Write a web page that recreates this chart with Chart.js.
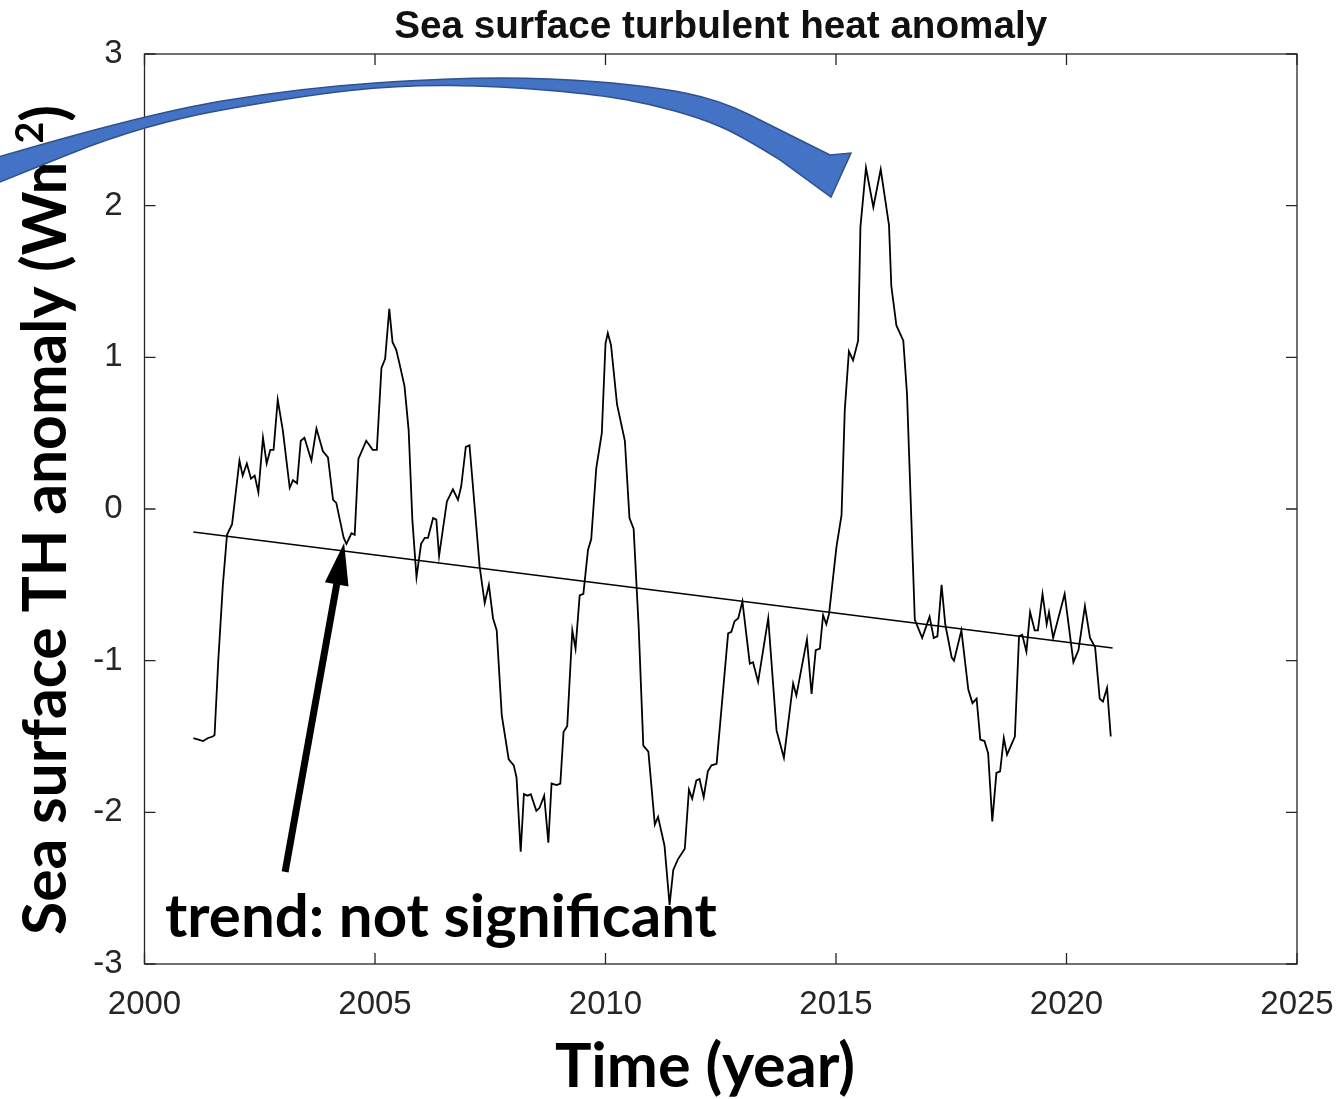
<!DOCTYPE html>
<html><head><meta charset="utf-8">
<script src="https://cdn.jsdelivr.net/npm/chart.js@4/dist/chart.umd.min.js"></script>
<style>html,body{margin:0;padding:0;background:#fff;}#wrap{width:1339px;height:1099px;}</style>
</head><body><div id="wrap"><canvas id="c" width="1339" height="1099"></canvas></div>
<script>
// ---- data ----
const years = [
2001.06,2001.17,2001.27,2001.38,2001.48,2001.52,2001.60,2001.70,2001.79,2001.90,
2002.06,2002.13,2002.22,2002.31,2002.39,2002.47,2002.57,2002.65,2002.73,2002.80,
2002.89,2003.00,2003.15,2003.22,2003.31,2003.39,2003.47,2003.62,2003.73,2003.87,
2003.98,2004.09,2004.16,2004.32,2004.38,2004.49,2004.56,2004.64,2004.81,2004.95,
2005.04,2005.14,2005.22,2005.31,2005.38,2005.46,2005.53,2005.64,2005.73,2005.81,
2005.90,2006.00,2006.08,2006.15,2006.26,2006.33,2006.39,2006.47,2006.56,2006.69,
2006.80,2006.87,2006.97,2007.05,2007.27,2007.38,2007.47,2007.56,2007.64,2007.75,
2007.90,2008.01,2008.07,2008.16,2008.23,2008.31,2008.38,2008.50,2008.57,2008.67,
2008.76,2008.83,2008.94,2009.02,2009.09,2009.17,2009.28,2009.35,2009.44,2009.52,
2009.62,2009.69,2009.80,2009.92,2010.00,2010.05,2010.12,2010.25,2010.42,2010.52,
2010.61,2010.72,2010.82,2010.93,2011.07,2011.14,2011.28,2011.39,2011.47,2011.57,
2011.72,2011.81,2011.88,2011.97,2012.04,2012.13,2012.22,2012.30,2012.41,2012.66,
2012.73,2012.80,2012.88,2012.97,2013.13,2013.20,2013.31,2013.53,2013.71,2013.87,
2014.07,2014.14,2014.37,2014.47,2014.56,2014.65,2014.72,2014.79,2014.85,2015.01,
2015.12,2015.19,2015.28,2015.37,2015.48,2015.53,2015.65,2015.81,2015.97,2016.15,
2016.20,2016.31,2016.46,2016.54,2016.71,2016.87,2017.03,2017.12,2017.20,2017.29,
2017.37,2017.51,2017.56,2017.72,2017.87,2017.96,2018.05,2018.13,2018.22,2018.30,
2018.39,2018.48,2018.56,2018.64,2018.71,2018.88,2018.97,2019.04,2019.13,2019.21,
2019.31,2019.38,2019.48,2019.57,2019.62,2019.71,2019.96,2020.15,2020.26,2020.40,
2020.51,2020.62,2020.72,2020.79,2020.88,2020.96
];
const anomaly = [
-1.51,-1.52,-1.53,-1.51,-1.50,-1.49,-1.00,-0.50,-0.17,-0.10,
0.32,0.22,0.30,0.20,0.22,0.11,0.47,0.30,0.39,0.39,
0.72,0.52,0.14,0.19,0.17,0.45,0.47,0.32,0.53,0.38,
0.34,0.06,0.04,-0.19,-0.23,-0.16,-0.17,0.33,0.45,0.39,
0.39,0.93,0.99,1.32,1.10,1.05,0.96,0.81,0.52,-0.07,
-0.45,-0.23,-0.19,-0.19,-0.06,-0.07,-0.31,-0.14,0.05,0.13,
0.06,0.15,0.41,0.42,-0.38,-0.62,-0.50,-0.72,-0.80,-1.36,
-1.65,-1.69,-1.77,-2.26,-1.88,-1.89,-1.88,-1.99,-1.97,-1.89,
-2.20,-1.81,-1.82,-1.81,-1.47,-1.43,-0.80,-0.92,-0.57,-0.56,
-0.27,-0.20,0.27,0.50,1.09,1.16,1.08,0.69,0.45,-0.06,
-0.13,-0.78,-1.56,-1.60,-2.08,-2.03,-2.22,-2.61,-2.38,-2.31,
-2.24,-1.85,-1.91,-1.79,-1.78,-1.90,-1.73,-1.69,-1.68,-0.82,
-0.81,-0.74,-0.72,-0.61,-1.02,-1.01,-1.14,-0.72,-1.46,-1.64,
-1.15,-1.23,-0.86,-1.22,-0.93,-0.92,-0.70,-0.76,-0.69,-0.25,
-0.04,0.65,1.04,0.98,1.11,1.86,2.25,1.99,2.24,1.87,
1.47,1.21,1.11,0.76,-0.73,-0.85,-0.71,-0.85,-0.84,-0.50,
-0.76,-0.98,-1.00,-0.80,-1.19,-1.28,-1.25,-1.52,-1.53,-1.61,
-2.06,-1.74,-1.73,-1.51,-1.62,-1.50,-0.84,-0.83,-0.94,-0.68,
-0.80,-0.80,-0.56,-0.76,-0.68,-0.85,-0.56,-1.01,-0.93,-0.64,
-0.85,-0.91,-1.25,-1.27,-1.18,-1.50
];
const trendYears = [2001.06, 2021.00];
const trendValues = [-0.152, -0.916];
const xTickValues = [2000, 2005, 2010, 2015, 2020, 2025];
const yTickValues = [-3, -2, -1, 0, 1, 2, 3];
const titleText = 'Sea surface turbulent heat anomaly';
const xTitle = 'Time (year)';
const yTitleMain = 'Sea surface TH anomaly (Wm';
const yTitleSup = '2';
const yTitleEnd = ')';
const noteText = 'trend: not significant';

// annotation geometry (in data units: year, value)
const blueUpper = [[1996.757,2.314],[1999.989,2.604],[2003.373,2.776],[2006.627,2.842],[2008.796,2.842],[2010.965,2.789],[2012.484,2.697],[2013.785,2.499],[2014.870,2.334]];
const blueHead = [[2015.325,2.347],[2014.891,2.057],[2013.785,2.302]];
const blueLower = [[2013.785,2.302],[2012.918,2.466],[2012.050,2.578],[2010.965,2.670],[2009.881,2.730],[2007.712,2.789],[2005.542,2.795],[2003.373,2.723],[1999.989,2.538],[1996.757,2.143]];
const blackArrow = [[2003.05,-2.393],[2004.33,-0.224]];
const notePos = [2000.445, -2.822];

const INK = '#262626';

function fitSize(ctx, text, weight, family, target) {
  ctx.font = weight + ' 100px ' + family;
  return 100 * target / ctx.measureText(text).width;
}
function smoothPath(ctx, pts, start) {
  if (start) ctx.moveTo(pts[0][0], pts[0][1]); else ctx.lineTo(pts[0][0], pts[0][1]);
  for (let i = 1; i < pts.length - 1; i++) {
    const mx = (pts[i][0] + pts[i+1][0]) / 2, my = (pts[i][1] + pts[i+1][1]) / 2;
    ctx.quadraticCurveTo(pts[i][0], pts[i][1], mx, my);
  }
  const l = pts[pts.length-1];
  ctx.lineTo(l[0], l[1]);
}

const decor = {
  id: 'decor',
  afterDraw(chart) {
    const ctx = chart.ctx, a = chart.chartArea;
    const xs = chart.scales.x, ys = chart.scales.y;
    const P = p => [xs.getPixelForValue(p[0]), ys.getPixelForValue(p[1])];
    ctx.save();
    // box
    ctx.strokeStyle = INK; ctx.lineWidth = 1.3;
    ctx.strokeRect(a.left, a.top, a.right - a.left, a.bottom - a.top);
    // inward ticks
    const tl = 11;
    ctx.beginPath();
    xTickValues.forEach(v => {
      const x = xs.getPixelForValue(v);
      ctx.moveTo(x, a.bottom); ctx.lineTo(x, a.bottom - tl);
      ctx.moveTo(x, a.top); ctx.lineTo(x, a.top + tl);
    });
    yTickValues.forEach(v => {
      const y = ys.getPixelForValue(v);
      ctx.moveTo(a.left, y); ctx.lineTo(a.left + tl, y);
      ctx.moveTo(a.right, y); ctx.lineTo(a.right - tl, y);
    });
    ctx.stroke();

    // title
    const cx = (a.left + a.right) / 2;
    let fs = fitSize(ctx, titleText, 'bold', '"Liberation Sans", Arial, sans-serif', 653);
    ctx.font = 'bold ' + fs + 'px "Liberation Sans", Arial, sans-serif';
    ctx.fillStyle = '#111'; ctx.textAlign = 'center'; ctx.textBaseline = 'alphabetic';
    ctx.fillText(titleText, cx, 38);

    // x title
    const fam = 'Lato, "Open Sans", sans-serif';
    fs = fitSize(ctx, xTitle, 'bold', fam, 300);
    ctx.font = 'bold ' + fs + 'px ' + fam;
    ctx.fillStyle = '#000';
    ctx.fillText(xTitle, 705, 1087);

    // y title (rotated)
    ctx.font = 'bold 100px ' + fam;
    const w1 = ctx.measureText(yTitleMain).width, w3 = ctx.measureText(yTitleEnd).width;
    ctx.font = 'bold 62px ' + fam;
    const w2 = ctx.measureText(yTitleSup).width;
    const k = 830 / (w1 + w2 + w3);
    const fy = 100 * k;
    ctx.save();
    ctx.translate(66, 935);
    ctx.rotate(-Math.PI / 2);
    ctx.textAlign = 'left';
    ctx.font = 'bold ' + fy + 'px ' + fam;
    ctx.fillText(yTitleMain, 0, 0);
    ctx.font = 'bold ' + (fy * 0.62) + 'px ' + fam;
    ctx.fillText(yTitleSup, w1 * k, -fy * 0.38);
    ctx.font = 'bold ' + fy + 'px ' + fam;
    ctx.fillText(yTitleEnd, (w1 + w2) * k, 0);
    ctx.restore();

    // note text
    const np = P(notePos);
    fs = fitSize(ctx, noteText, 'bold', fam, 552);
    ctx.font = 'bold ' + fs + 'px ' + fam;
    ctx.textAlign = 'left';
    ctx.fillText(noteText, np[0], np[1]);

    // black arrow
    const t0 = P(blackArrow[0]), t1 = P(blackArrow[1]);
    const dx = t1[0] - t0[0], dy = t1[1] - t0[1], L = Math.hypot(dx, dy);
    const ux = dx / L, uy = dy / L, px = -uy, py = ux;
    const hl = 42, hw = 12;
    const bx = t1[0] - ux * hl, by = t1[1] - uy * hl;
    ctx.strokeStyle = '#000'; ctx.lineWidth = 7; ctx.lineCap = 'butt';
    ctx.beginPath(); ctx.moveTo(t0[0], t0[1]); ctx.lineTo(bx + ux * 2, by + uy * 2); ctx.stroke();
    ctx.fillStyle = '#000';
    ctx.beginPath();
    ctx.moveTo(t1[0], t1[1]);
    ctx.lineTo(bx + px * hw, by + py * hw);
    ctx.lineTo(bx - px * hw, by - py * hw);
    ctx.closePath(); ctx.fill();

    // blue curved arrow
    ctx.beginPath();
    smoothPath(ctx, blueUpper.map(P), true);
    blueHead.map(P).forEach(p => ctx.lineTo(p[0], p[1]));
    smoothPath(ctx, blueLower.map(P), false);
    ctx.closePath();
    ctx.fillStyle = '#4472C4'; ctx.fill();
    ctx.strokeStyle = '#2F528F'; ctx.lineWidth = 1.5; ctx.lineJoin = 'miter'; ctx.stroke();
    ctx.restore();
  }
};

new Chart(document.getElementById('c'), {
  type: 'line',
  data: {
    datasets: [
      { data: years.map((x, i) => ({ x: x, y: anomaly[i] })), borderColor: '#000', borderWidth: 1.8, pointRadius: 0, tension: 0, fill: false },
      { data: trendYears.map((x, i) => ({ x: x, y: trendValues[i] })), borderColor: '#000', borderWidth: 1.5, pointRadius: 0, tension: 0, fill: false }
    ]
  },
  options: {
    responsive: false, animation: false, devicePixelRatio: 1, events: [],
    layout: { padding: { left: 0, right: 42, top: 54, bottom: 0 } },
    plugins: { legend: { display: false }, tooltip: { enabled: false }, title: { display: false } },
    scales: {
      x: {
        type: 'linear', min: 2000, max: 2025,
        afterBuildTicks: s => { s.ticks = xTickValues.map(v => ({ value: v })); },
        ticks: { color: INK, font: { family: '"Liberation Sans", Arial, sans-serif', size: 33 }, padding: 13, maxRotation: 0, callback: v => String(v) },
        grid: { display: false }, border: { display: false },
        afterFit: s => { s.height = 135; s.paddingLeft = 0; s.paddingRight = 0; }
      },
      y: {
        type: 'linear', min: -3, max: 3,
        afterBuildTicks: s => { s.ticks = yTickValues.map(v => ({ value: v })); },
        ticks: { color: INK, font: { family: '"Liberation Sans", Arial, sans-serif', size: 33 }, padding: 14, callback: v => String(v) },
        grid: { display: false }, border: { display: false },
        afterFit: s => { s.width = 144.5; s.paddingTop = 0; s.paddingBottom = 0; }
      }
    }
  },
  plugins: [decor]
});
</script>
</body></html>
